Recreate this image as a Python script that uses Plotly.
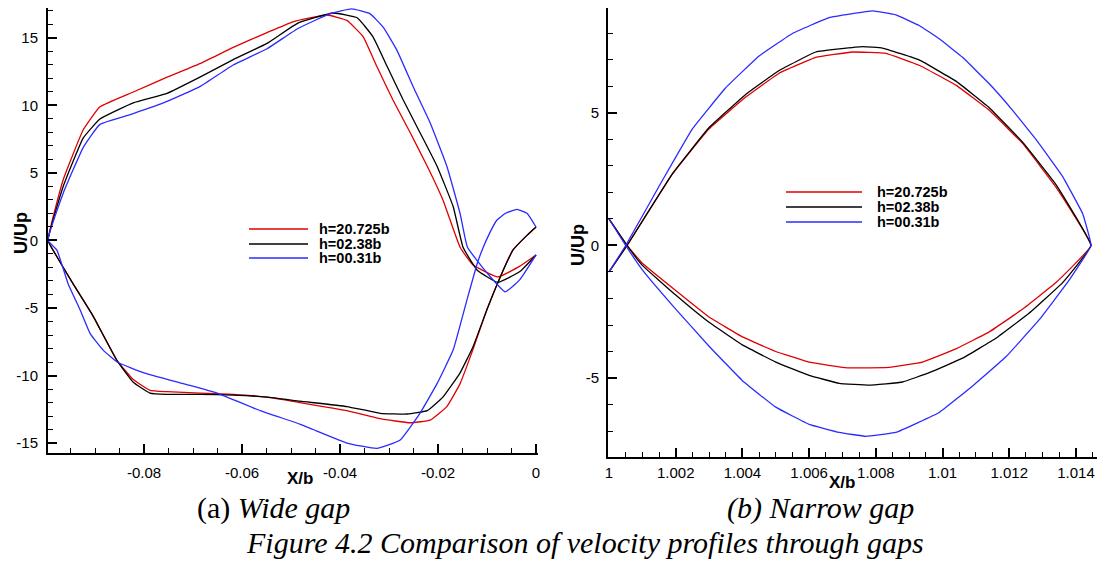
import plotly.graph_objects as go

# ---------------- data: (a) wide gap ----------------
# upper branch (x from -0.0996 to 0)
wa_red_up_x = [-0.0996, -0.0965, -0.0924, -0.0890, -0.0822, -0.0753, -0.0686, -0.0618, -0.0549, -0.0496,
               -0.0427, -0.0386, -0.0353, -0.0325, -0.0292, -0.0257, -0.0222, -0.0190, -0.0155, -0.0129,
               -0.0078, -0.0033, 0.0]
wa_red_up_y = [0.0, 4.5, 8.2, 9.9, 11.0, 12.1, 13.1, 14.3, 15.4, 16.2,
               16.7, 16.3, 15.1, 12.9, 10.4, 8.0, 5.5, 3.0, -0.5, -1.8,
               -2.7, -1.9, -1.07]
wa_blk_up_x = [-0.0996, -0.0965, -0.0924, -0.0890, -0.0822, -0.0753, -0.0686, -0.0618, -0.0549, -0.0486,
               -0.0414, -0.0365, -0.0333, -0.0304, -0.0271, -0.0237, -0.0202, -0.0169, -0.0149, -0.0120,
               -0.0078, -0.0033, 0.0]
wa_blk_up_y = [0.0, 4.0, 7.6, 9.0, 10.2, 10.9, 12.1, 13.4, 14.6, 16.1,
               16.85, 16.5, 15.1, 12.9, 10.4, 8.0, 5.5, 2.5, -0.5, -2.2,
               -3.1, -2.3, -1.07]
wa_blu_up_x = [-0.0996, -0.0965, -0.0924, -0.0890, -0.0822, -0.0753, -0.0686, -0.0618, -0.0549, -0.0486,
               -0.0420, -0.0376, -0.0339, -0.0312, -0.0284, -0.0251, -0.0216, -0.0182, -0.0155, -0.0140,
               -0.0100, -0.0063, -0.0033, 0.0]
wa_blu_up_y = [0.0, 3.5, 6.9, 8.6, 9.4, 10.3, 11.4, 13.0, 14.2, 15.7,
               16.8, 17.15, 16.8, 15.8, 14.1, 11.4, 8.7, 5.5, 2.0, -0.5,
               -2.4, -3.8, -2.9, -1.07]
# lower branch (x from -0.0996 to 0)
wa_red_lo_x = [-0.0996, -0.0986, -0.0945, -0.0904, -0.0855, -0.0822, -0.0788, -0.0753, -0.0686, -0.0618,
               -0.0549, -0.0482, -0.0386, -0.0318, -0.0257, -0.0216, -0.0182, -0.0155, -0.0129, -0.0100,
               -0.0073, -0.0047, -0.0018, 0.0]
wa_red_lo_y = [0.0, -0.7, -3.2, -5.6, -8.9, -10.3, -11.1, -11.2, -11.3, -11.4,
               -11.6, -12.0, -12.6, -13.2, -13.5, -13.3, -12.3, -10.6, -8.1, -5.1,
               -2.7, -0.7, 0.4, 1.0]
wa_blk_lo_x = [-0.0996, -0.0986, -0.0945, -0.0904, -0.0855, -0.0822, -0.0788, -0.0753, -0.0686, -0.0618,
               -0.0549, -0.0482, -0.0386, -0.0318, -0.0263, -0.0222, -0.0190, -0.0155, -0.0129, -0.0100,
               -0.0073, -0.0047, -0.0018, 0.0]
wa_blk_lo_y = [0.0, -0.7, -3.2, -5.6, -8.9, -10.5, -11.3, -11.4, -11.4, -11.45,
               -11.6, -11.9, -12.3, -12.8, -12.85, -12.6, -11.6, -9.8, -7.9, -5.1,
               -2.7, -0.7, 0.4, 1.0]
wa_blu_lo_x = [-0.0996, -0.0978, -0.0955, -0.0931, -0.0910, -0.0884, -0.0855, -0.0800, -0.0720, -0.0651,
               -0.0563, -0.0482, -0.0455, -0.0386, -0.0325, -0.0278, -0.0237, -0.0202, -0.0169, -0.0141,
               -0.0120, -0.0110, -0.0094, -0.0080, -0.0063, -0.0039, -0.0018, 0.0]
wa_blu_lo_y = [0.0, -0.7, -3.2, -5.1, -6.9, -8.1, -9.0, -9.8, -10.6, -11.3,
               -12.6, -13.6, -14.0, -15.0, -15.4, -14.8, -12.8, -10.6, -8.1, -4.4,
               -1.7, -0.7, 0.6, 1.5, 2.0, 2.3, 2.0, 1.0]

# ---------------- data: (b) narrow gap ----------------
nb_red_up_x = [1.0, 1.00054, 1.0019, 1.0030, 1.0041, 1.0051, 1.0062, 1.0073, 1.0083, 1.0093,
               1.0104, 1.0114, 1.0124, 1.0134, 1.01445]
nb_red_up_y = [-1.0, 0.0, 2.7, 4.4, 5.6, 6.5, 7.1, 7.3, 7.25, 6.8,
               6.05, 5.1, 3.85, 2.2, 0.0]
nb_blk_up_x = [1.0, 1.00054, 1.0019, 1.0030, 1.0041, 1.0051, 1.0062, 1.0076, 1.0082, 1.0093,
               1.0104, 1.0114, 1.0124, 1.0134, 1.01445]
nb_blk_up_y = [-1.0, 0.0, 2.7, 4.45, 5.7, 6.6, 7.3, 7.5, 7.45, 7.0,
               6.2, 5.2, 3.9, 2.3, 0.0]
nb_blu_up_x = [1.0, 1.0005, 1.00153, 1.0025, 1.0035, 1.0045, 1.0055, 1.0066, 1.0079, 1.0086,
               1.0093, 1.0099, 1.0106, 1.0114, 1.0121, 1.0128, 1.0136, 1.0142, 1.01445]
nb_blu_up_y = [-1.0, 0.0, 2.3, 4.4, 5.95, 7.15, 8.0, 8.6, 8.85, 8.7,
               8.3, 7.8, 7.1, 6.1, 5.1, 4.0, 2.6, 1.2, 0.0]
nb_red_lo_x = [1.0, 1.00054, 1.0010, 1.0020, 1.0030, 1.0040, 1.0050, 1.0060, 1.0069, 1.0072,
               1.0084, 1.0094, 1.0104, 1.0114, 1.0124, 1.0134, 1.01445]
nb_red_lo_y = [1.0, 0.0, -0.67, -1.7, -2.7, -3.45, -4.0, -4.4, -4.58, -4.62,
               -4.6, -4.4, -3.9, -3.26, -2.4, -1.4, 0.0]
nb_blk_lo_x = [1.0, 1.00054, 1.0010, 1.0020, 1.0030, 1.0040, 1.0050, 1.0060, 1.0069, 1.0078,
               1.0088, 1.0096, 1.0106, 1.0116, 1.0126, 1.0136, 1.01445]
nb_blk_lo_y = [1.0, 0.0, -0.75, -1.87, -2.9, -3.75, -4.4, -4.9, -5.2, -5.27,
               -5.15, -4.8, -4.25, -3.5, -2.55, -1.4, 0.0]
nb_blu_lo_x = [1.0, 1.0005, 1.0010, 1.0020, 1.0030, 1.0040, 1.0050, 1.0060, 1.0069, 1.0077,
               1.0086, 1.0099, 1.0109, 1.0119, 1.0129, 1.0138, 1.01445]
nb_blu_lo_y = [1.0, 0.0, -0.92, -2.4, -3.8, -5.1, -6.1, -6.75, -7.05, -7.2,
               -7.05, -6.3, -5.3, -4.2, -2.8, -1.3, 0.0]

series_names = ["h=20.725b", "h=02.38b", "h=00.31b"]
series_colors = ["#e00000", "#000000", "#2b2bff"]

a_x_ticks = [-0.08, -0.06, -0.04, -0.02, 0.0]
a_x_ticktext = ["-0.08", "-0.06", "-0.04", "-0.02", "0"]
a_y_ticks = [-15, -10, -5, 0, 5, 10, 15]
a_y_ticktext = ["-15", "-10", "-5", "0", "5", "10", "15"]
b_x_ticks = [1.0, 1.002, 1.004, 1.006, 1.008, 1.01, 1.012, 1.014]
b_x_ticktext = ["1", "1.002", "1.004", "1.006", "1.008", "1.01", "1.012", "1.014"]
b_y_ticks = [-5, 0, 5]
b_y_ticktext = ["-5", "0", "5"]

W, H = 1101, 562
fig = go.Figure()

wide = [(wa_red_up_x, wa_red_up_y, wa_red_lo_x, wa_red_lo_y),
        (wa_blk_up_x, wa_blk_up_y, wa_blk_lo_x, wa_blk_lo_y),
        (wa_blu_up_x, wa_blu_up_y, wa_blu_lo_x, wa_blu_lo_y)]
narrow = [(nb_red_up_x, nb_red_up_y, nb_red_lo_x, nb_red_lo_y),
          (nb_blk_up_x, nb_blk_up_y, nb_blk_lo_x, nb_blk_lo_y),
          (nb_blu_up_x, nb_blu_up_y, nb_blu_lo_x, nb_blu_lo_y)]

for i, (ux, uy, lx, ly) in enumerate(wide):
    xs = list(reversed(lx)) + ux[1:]
    ys = list(reversed(ly)) + uy[1:]
    fig.add_trace(go.Scatter(x=xs, y=ys, mode="lines", name=series_names[i],
                             line=dict(color=series_colors[i], width=1.3, shape="spline", smoothing=0.35),
                             xaxis="x", yaxis="y", showlegend=False))
for i, (ux, uy, lx, ly) in enumerate(narrow):
    xs = ux + list(reversed(lx))[1:]
    ys = uy + list(reversed(ly))[1:]
    fig.add_trace(go.Scatter(x=xs, y=ys, mode="lines", name=series_names[i],
                             line=dict(color=series_colors[i], width=1.3, shape="spline", smoothing=0.25),
                             xaxis="x2", yaxis="y2", showlegend=False))

def px(xp):
    return xp / W

def py(yp):
    return 1 - yp / H

tickfont = dict(family="Liberation Sans, Arial, sans-serif", size=15, color="black")
common = dict(showline=True, linecolor="black", linewidth=2, ticks="inside", ticklen=9,
              tickwidth=2, tickcolor="black", showgrid=False, zeroline=False, mirror=False,
              tickfont=tickfont, automargin=False)

fig.update_layout(
    width=W, height=H, margin=dict(l=0, r=0, t=0, b=0),
    paper_bgcolor="white", plot_bgcolor="white", showlegend=False,
    xaxis=dict(domain=[px(48), px(538)], range=[-0.0996, 0.0004], anchor="y",
               tickvals=a_x_ticks, ticktext=a_x_ticktext, ticklabelstandoff=5,
               minor=dict(dtick=0.005, tick0=0, ticks="inside", ticklen=5, tickwidth=1, tickcolor="black"),
               **common),
    yaxis=dict(domain=[py(453), py(8)], range=[-15.74, 17.22], anchor="x",
               tickvals=a_y_ticks, ticktext=a_y_ticktext, ticklabelstandoff=5,
               minor=dict(dtick=1, tick0=0, ticks="inside", ticklen=5, tickwidth=1, tickcolor="black"),
               **common),
    xaxis2=dict(domain=[px(608), px(1097)], range=[0.99997, 1.01463], anchor="y2",
                tickvals=b_x_ticks, ticktext=b_x_ticktext, ticklabelstandoff=1,
                minor=dict(dtick=0.0005, tick0=1, ticks="inside", ticklen=5, tickwidth=1, tickcolor="black"),
                **common),
    yaxis2=dict(domain=[py(457), py(8)], range=[-7.98, 8.96], anchor="x2",
                tickvals=b_y_ticks, ticktext=b_y_ticktext, ticklabelstandoff=4,
                minor=dict(dtick=1, tick0=0, ticks="inside", ticklen=5, tickwidth=1, tickcolor="black"),
                **common),
)

boldfont = dict(family="Liberation Sans, Arial, sans-serif", size=17, color="black")
ann = []
# axis titles
ann.append(dict(text="<b>U/Up</b>", x=px(21), y=py(233), textangle=-90, font=dict(boldfont, size=18)))
ann.append(dict(text="<b>U/Up</b>", x=px(578), y=py(245), textangle=-90, font=dict(boldfont, size=18)))
ann.append(dict(text="<b>X/b</b>", x=px(300), y=py(478), font=boldfont))
ann.append(dict(text="<b>X/b</b>", x=px(842), y=py(482), font=boldfont))

# legends (key lines as shapes, labels as text)
shapes = []
legend_left = dict(x0=249, x1=308, tx=317, rows=[229, 244, 258])
legend_right = dict(x0=786, x1=862, tx=875, rows=[192, 207, 222])
legfont = dict(family="Liberation Sans, Arial, sans-serif", size=14.5, color="black")
for lg in (legend_left, legend_right):
    for i, ry in enumerate(lg["rows"]):
        shapes.append(dict(type="line", xref="paper", yref="paper", x0=px(lg["x0"]), x1=px(lg["x1"]),
                           y0=py(ry), y1=py(ry), line=dict(color=series_colors[i], width=1.3)))
        ann.append(dict(text="<b>" + series_names[i] + "</b>", x=px(lg["tx"]), y=py(ry),
                        xanchor="left", font=legfont))

serif = dict(family="Liberation Serif, Times New Roman, serif", size=30, color="black")
ann.append(dict(text="(a) <i>Wide gap</i>", x=px(273), y=py(508), font=serif))
ann.append(dict(text="<i>(b) Narrow gap</i>", x=px(820), y=py(508), font=serif))
ann.append(dict(text="<i>Figure 4.2 Comparison of velocity profiles through gaps</i>",
                x=px(585), y=py(542), font=serif))

for a in ann:
    a.setdefault("xref", "paper")
    a.setdefault("yref", "paper")
    a.setdefault("showarrow", False)
    a.setdefault("xanchor", "center")
    a.setdefault("yanchor", "middle")

fig.update_layout(annotations=ann, shapes=shapes)
fig.write_html("out.html")
